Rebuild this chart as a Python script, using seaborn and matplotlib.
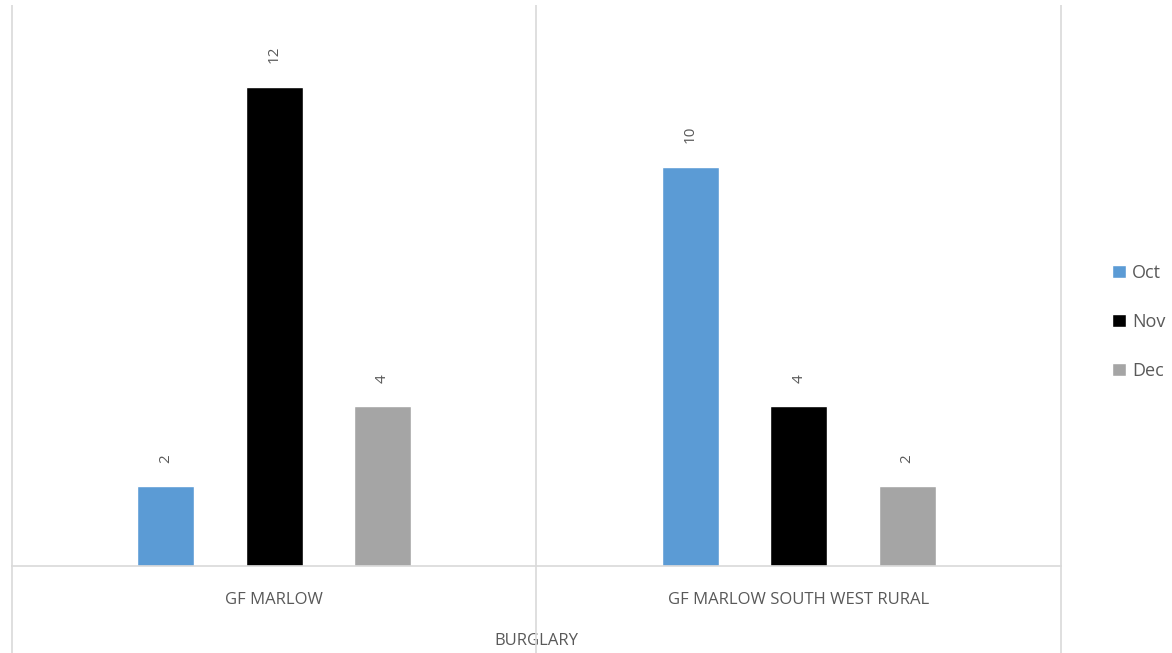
import matplotlib
matplotlib.use("Agg")
import matplotlib.pyplot as plt
import seaborn as sns
import pandas as pd

categories = ["GF MARLOW", "GF MARLOW SOUTH WEST RURAL"]
months = ["Oct", "Nov", "Dec"]
oct_vals = [2, 10]
nov_vals = [12, 4]
dec_vals = [4, 2]
axis_title = "BURGLARY"

colors = ["#5B9BD5", "#000000", "#A5A5A5"]
text_gray = "#595959"
line_gray = "#D9D9D9"

rows = []
for m, vals in zip(months, [oct_vals, nov_vals, dec_vals]):
    for c, v in zip(categories, vals):
        rows.append({"category": c, "month": m, "value": v})
df = pd.DataFrame(rows)

sns.set_theme(style="white")
plt.rcParams["font.family"] = ["Open Sans", "DejaVu Sans"]

fig = plt.figure(figsize=(11.72, 6.53), dpi=100)
ax = fig.add_axes([0.0102, 0.1332, 0.8951, 0.8561])

sns.barplot(data=df, x="category", y="value", hue="month", order=categories,
            hue_order=months, palette=colors, width=0.62, gap=0.475,
            saturation=1, ax=ax, errorbar=None)

for cont in ax.containers:
    ax.bar_label(cont, rotation=90, padding=17, color=text_gray, fontsize=11)

ax.set_xlim(-0.5, 1.5)
ax.set_ylim(0, 14)
ax.set_yticks([])
ax.set_ylabel("")
for s in ["left", "right", "top"]:
    ax.spines[s].set_visible(False)
ax.spines["bottom"].set_color(line_gray)
ax.spines["bottom"].set_linewidth(1.2)

ax.tick_params(axis="x", length=0, pad=19, labelcolor=text_gray, labelsize=12)
ax.set_xlabel(axis_title, color=text_gray, fontsize=12, labelpad=18)

ax.vlines([-0.5, 0.5, 1.5], -0.156, 1.003, transform=ax.get_xaxis_transform(),
          colors=line_gray, linewidth=1.2, clip_on=False)

leg = ax.legend(loc="center left", bbox_to_anchor=(0.935, 0.507),
                bbox_transform=fig.transFigure, frameon=False,
                handlelength=0.75, handleheight=0.75, handletextpad=0.35,
                labelspacing=1.72, fontsize=13)
for t in leg.get_texts():
    t.set_color(text_gray)

fig.savefig("out.png", dpi=100)
